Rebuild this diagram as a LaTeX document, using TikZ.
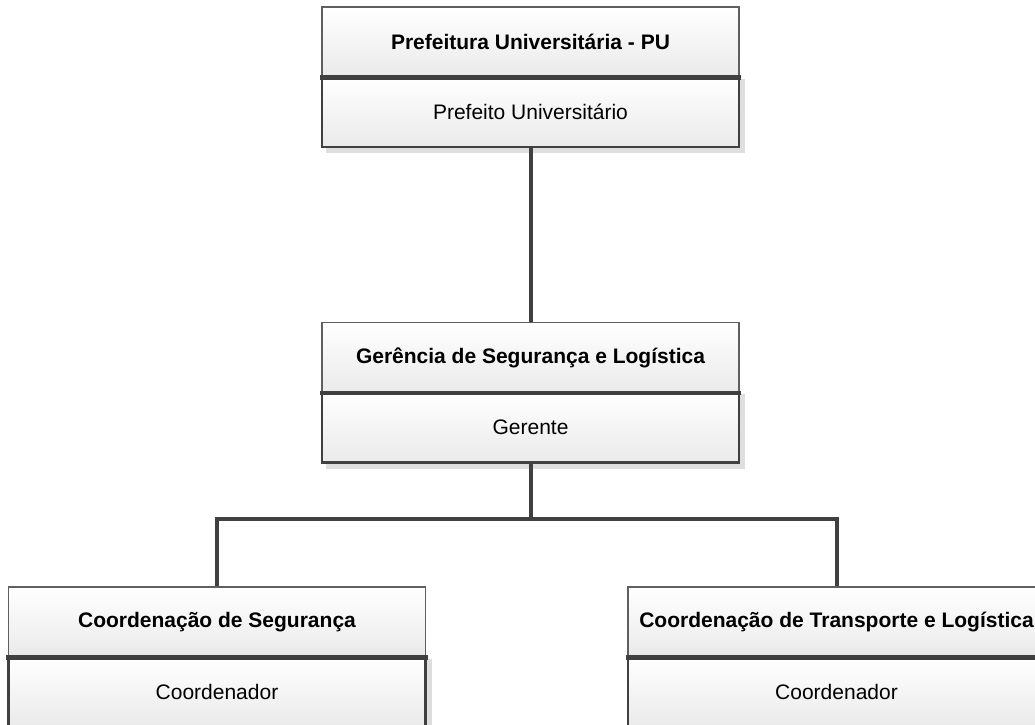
\documentclass[tikz,border=0pt]{standalone}
\usepackage{fontspec}
\setmainfont{Liberation Sans}
\usetikzlibrary{calc,backgrounds}
\definecolor{linegray}{RGB}{64,64,64}
\definecolor{headgray}{RGB}{95,95,95}
\definecolor{boxgray}{RGB}{234,234,234}
\definecolor{shadowgray}{RGB}{222,222,222}
\tikzset{
  head/.style={rectangle, minimum width=417pt, minimum height=70pt, inner sep=0pt,
    draw=headgray, line width=1.3pt, top color=white, bottom color=boxgray,
    font=\fontsize{21}{25}\selectfont\bfseries},
  role/.style={rectangle, minimum width=417pt, minimum height=70pt, inner sep=0pt,
    draw=linegray, line width=2.2pt, top color=white, bottom color=boxgray,
    font=\fontsize{21}{25}\selectfont},
  divider/.style={draw=linegray, line width=4.5pt},
  conn/.style={draw=linegray, line width=4pt},
  shadowbox/.style={fill=shadowgray, draw=none}
}
\begin{document}
\begin{tikzpicture}[x=1pt,y=-1pt]
\useasboundingbox (0,0) rectangle (1035,724);
% top
\node[head] (puH) at (530.5,42) {Prefeitura Universitária - PU};
\node[role] (puR) at (530.5,112) {Prefeito Universitário};
% middle
\node[head] (gH) at (530.5,357.5) {Gerência de Segurança e Logística};
\node[role] (gR) at (530.5,427.5) {Gerente};
% bottom left
\node[head] (csH) at (217,622) {Coordenação de Segurança};
\node[role] (csR) at (217,692) {Coordenador};
% bottom right
\node[head] (ctH) at (836.5,622) {Coordenação de Transporte e Logística};
\node[role] (ctR) at (836.5,692) {Coordenador};
% dividers
\foreach \n in {puH,gH,csH,ctH}{
  \draw[divider] ([xshift=-1.5pt]\n.south west) -- ([xshift=1.5pt]\n.south east);
}
% shadows
\begin{pgfonlayer}{background}
\foreach \n in {puR,gR,csR,ctR}{
  \fill[shadowbox] ($(\n.north west)+(5,3)$) rectangle ($(\n.south east)+(5,5)$);
}
\end{pgfonlayer}
% connectors
\coordinate (bus) at (gR.south |- 0,519);
\draw[conn] (puR.south) -- (gH.north);
\draw[conn] (gR.south) -- (bus);
\draw[conn] (csH.north) |- (bus) -| (ctH.north);
\end{tikzpicture}
\end{document}
